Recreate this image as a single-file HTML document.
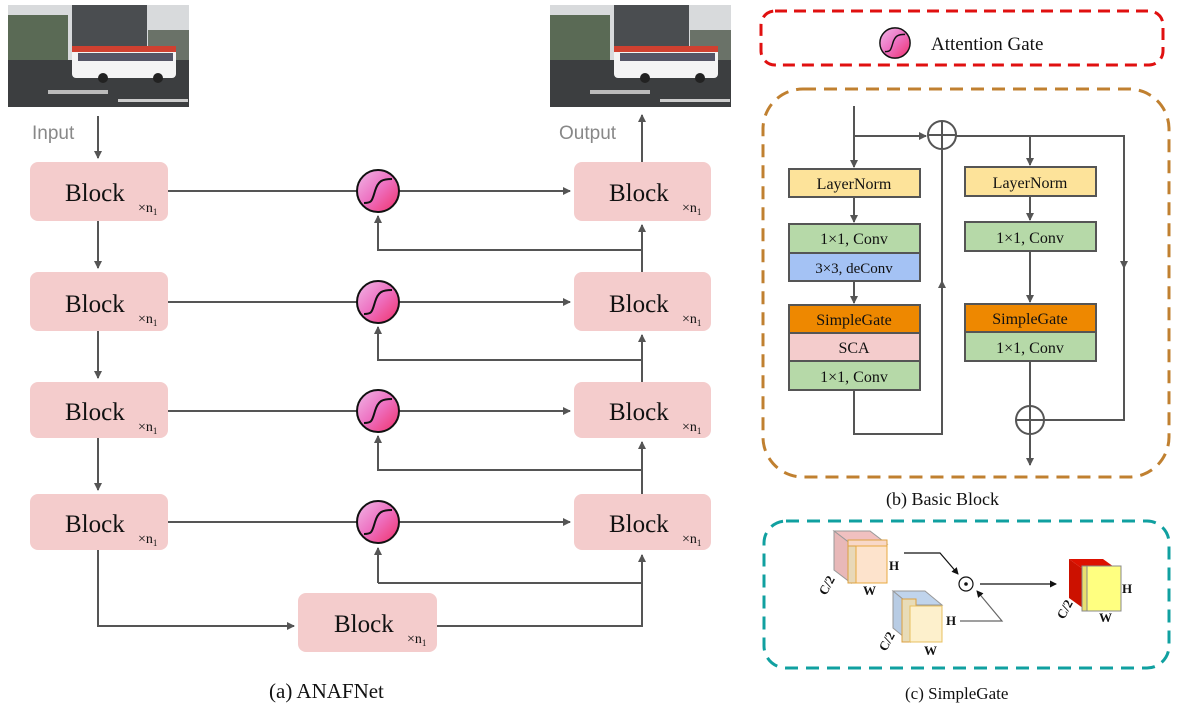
<!DOCTYPE html>
<html><head><meta charset="utf-8"><style>
body{margin:0;background:#fff;width:1179px;height:711px;overflow:hidden}
svg text{font-family:"Liberation Serif",serif}
</style></head><body>
<svg width="1179" height="711" viewBox="0 0 1179 711" xmlns="http://www.w3.org/2000/svg">
<defs>
<marker id="a" markerWidth="8" markerHeight="8" refX="7" refY="4" orient="auto" markerUnits="userSpaceOnUse"><path d="M0,0 L8,4 L0,8 z" fill="#555"/></marker>
<marker id="k" markerWidth="7" markerHeight="7" refX="6" refY="3.5" orient="auto" markerUnits="userSpaceOnUse"><path d="M0,0 L7,3.5 L0,7 z" fill="#111"/></marker>
<linearGradient id="g" x1="0" y1="0" x2="1" y2="1"><stop offset="0" stop-color="#f0b8e8"/><stop offset="0.5" stop-color="#ee70c0"/><stop offset="1" stop-color="#f0306a"/></linearGradient>
<g id="photo">
<rect width="181" height="102" fill="#d8dadc"/>
<rect x="64" y="0" width="75" height="45" fill="#4a4d50"/>
<rect x="0" y="10" width="60" height="45" fill="#5a6a55"/>
<rect x="140" y="25" width="41" height="30" fill="#6a7268"/>
<rect x="0" y="55" width="181" height="47" fill="#3c3e40"/>
<rect x="40" y="85" width="60" height="4" fill="#bbb"/><rect x="110" y="94" width="70" height="3" fill="#ccc"/>
<rect x="64" y="41" width="104" height="32" rx="4" fill="#f4f4f4"/>
<rect x="64" y="41" width="104" height="6" fill="#d04030"/>
<rect x="70" y="48" width="95" height="8" fill="#556"/>
<circle cx="95" cy="73" r="5" fill="#222"/><circle cx="150" cy="73" r="5" fill="#222"/>
</g>
<g id="gate">
<circle r="21" fill="url(#g)" stroke="#111" stroke-width="2"/>
<path d="M-14,12 C-6,12 -6,10 -3,0 C0,-10 4,-12 14,-12" fill="none" stroke="#111" stroke-width="2"/>
</g>
</defs>

<use href="#photo" transform="translate(8,5)"/>
<use href="#photo" transform="translate(550,5)"/>
<text x="32" y="139" font-size="19" fill="#888" style="font-family:'Liberation Sans',sans-serif">Input</text>
<text x="559" y="139" font-size="19" fill="#888" style="font-family:'Liberation Sans',sans-serif">Output</text>

<g stroke="#555" stroke-width="2" fill="none">
<line x1="98" y1="116" x2="98" y2="158" marker-end="url(#a)"/>
<line x1="642" y1="162" x2="642" y2="115" marker-end="url(#a)"/>
<line x1="98" y1="221" x2="98" y2="268" marker-end="url(#a)"/>
<line x1="98" y1="331" x2="98" y2="378" marker-end="url(#a)"/>
<line x1="98" y1="438" x2="98" y2="490" marker-end="url(#a)"/>
<polyline points="98,550 98,626 294,626" marker-end="url(#a)"/>
<polyline points="437,626 642,626 642,555" marker-end="url(#a)"/>
<line x1="642" y1="583" x2="378" y2="583"/><line x1="378" y1="583" x2="378" y2="548" marker-end="url(#a)"/>
<line x1="642" y1="494" x2="642" y2="442" marker-end="url(#a)"/>
<polyline points="642,470 378,470 378,436" marker-end="url(#a)"/>
<line x1="642" y1="382" x2="642" y2="335" marker-end="url(#a)"/>
<polyline points="642,360 378,360 378,327" marker-end="url(#a)"/>
<line x1="642" y1="272" x2="642" y2="225" marker-end="url(#a)"/>
<polyline points="642,250 378,250 378,216" marker-end="url(#a)"/>
<line x1="168" y1="191" x2="570" y2="191" marker-end="url(#a)"/>
<line x1="168" y1="302" x2="570" y2="302" marker-end="url(#a)"/>
<line x1="168" y1="411" x2="570" y2="411" marker-end="url(#a)"/>
<line x1="168" y1="522" x2="570" y2="522" marker-end="url(#a)"/>
</g>

<g fill="#f4cccc">
<rect x="30" y="162" width="138" height="59" rx="8"/>
<rect x="30" y="272" width="138" height="59" rx="8"/>
<rect x="30" y="382" width="138" height="56" rx="8"/>
<rect x="30" y="494" width="138" height="56" rx="8"/>
<rect x="574" y="162" width="137" height="59" rx="8"/>
<rect x="574" y="272" width="137" height="59" rx="8"/>
<rect x="574" y="382" width="137" height="56" rx="8"/>
<rect x="574" y="494" width="137" height="56" rx="8"/>
<rect x="298" y="593" width="139" height="59" rx="8"/>
</g>
<g font-size="25" fill="#111">
<text x="65" y="201">Block</text><text x="138" y="212" font-size="14">×n<tspan font-size="9" dy="3">1</tspan></text>
<text x="65" y="312">Block</text><text x="138" y="323" font-size="14">×n<tspan font-size="9" dy="3">1</tspan></text>
<text x="65" y="420">Block</text><text x="138" y="431" font-size="14">×n<tspan font-size="9" dy="3">1</tspan></text>
<text x="65" y="532">Block</text><text x="138" y="543" font-size="14">×n<tspan font-size="9" dy="3">1</tspan></text>
<text x="609" y="201">Block</text><text x="682" y="212" font-size="14">×n<tspan font-size="9" dy="3">1</tspan></text>
<text x="609" y="312">Block</text><text x="682" y="323" font-size="14">×n<tspan font-size="9" dy="3">1</tspan></text>
<text x="609" y="420">Block</text><text x="682" y="431" font-size="14">×n<tspan font-size="9" dy="3">1</tspan></text>
<text x="609" y="532">Block</text><text x="682" y="543" font-size="14">×n<tspan font-size="9" dy="3">1</tspan></text>
<text x="334" y="632">Block</text><text x="407" y="643" font-size="14">×n<tspan font-size="9" dy="3">1</tspan></text>
</g>
<use href="#gate" transform="translate(378,191)"/>
<use href="#gate" transform="translate(378,302)"/>
<use href="#gate" transform="translate(378,411)"/>
<use href="#gate" transform="translate(378,522)"/>
<text x="269" y="698" font-size="21" fill="#111">(a) ANAFNet</text>

<rect x="761" y="11" width="402" height="54" rx="14" fill="none" stroke="#e01010" stroke-width="3" stroke-dasharray="12,7"/>
<use href="#gate" transform="translate(895,43) scale(0.72)"/>
<text x="931" y="50" font-size="19" fill="#111">Attention Gate</text>

<rect x="763" y="89" width="406" height="388" rx="40" fill="none" stroke="#c08030" stroke-width="3" stroke-dasharray="13,8"/>
<g stroke="#555" stroke-width="2" fill="none">
<line x1="854" y1="106" x2="854" y2="167" marker-end="url(#a)"/>
<line x1="854" y1="136" x2="926" y2="136" marker-end="url(#a)"/>
<line x1="854" y1="197" x2="854" y2="222" marker-end="url(#a)"/>
<line x1="854" y1="281" x2="854" y2="303" marker-end="url(#a)"/>
<polyline points="854,390 854,434 942,434 942,150"/>
<line x1="942" y1="300" x2="942" y2="281" marker-end="url(#a)"/>
<polyline points="956,136 1124,136 1124,420 1044,420"/>
<line x1="1124" y1="250" x2="1124" y2="268" marker-end="url(#a)"/>
<polyline points="1030,136 1030,165" marker-end="url(#a)"/>
<line x1="1030" y1="196" x2="1030" y2="220" marker-end="url(#a)"/>
<line x1="1030" y1="251" x2="1030" y2="302" marker-end="url(#a)"/>
<line x1="1030" y1="361" x2="1030" y2="406"/>
<line x1="1030" y1="434" x2="1030" y2="465" marker-end="url(#a)"/>
<circle cx="942" cy="135" r="14"/><line x1="928" y1="135" x2="956" y2="135"/><line x1="942" y1="121" x2="942" y2="149"/>
<circle cx="1030" cy="420" r="14"/><line x1="1016" y1="420" x2="1044" y2="420"/><line x1="1030" y1="406" x2="1030" y2="434"/>
</g>
<g stroke="#555" stroke-width="2">
<rect x="789" y="169" width="131" height="28" fill="#fde39a"/>
<rect x="789" y="224" width="131" height="29" fill="#b6d9a8"/>
<rect x="789" y="253" width="131" height="28" fill="#a4c2f4"/>
<rect x="789" y="305" width="131" height="28" fill="#ee8800"/>
<rect x="789" y="333" width="131" height="28" fill="#f4cccc"/>
<rect x="789" y="361" width="131" height="29" fill="#b6d9a8"/>
<rect x="965" y="167" width="131" height="29" fill="#fde39a"/>
<rect x="965" y="222" width="131" height="29" fill="#b6d9a8"/>
<rect x="965" y="304" width="131" height="28" fill="#ee8800"/>
<rect x="965" y="332" width="131" height="29" fill="#b6d9a8"/>
</g>
<g font-size="16" fill="#111" text-anchor="middle">
<text x="854" y="189">LayerNorm</text>
<text x="854" y="244">1×1, Conv</text>
<text x="854" y="273" font-size="15">3×3, deConv</text>
<text x="854" y="325">SimpleGate</text>
<text x="854" y="353">SCA</text>
<text x="854" y="382">1×1, Conv</text>
<text x="1030" y="188">LayerNorm</text>
<text x="1030" y="243">1×1, Conv</text>
<text x="1030" y="324">SimpleGate</text>
<text x="1030" y="353">1×1, Conv</text>
</g>
<text x="886" y="505" font-size="18" fill="#111">(b) Basic Block</text>

<rect x="764" y="521" width="405" height="147" rx="22" fill="none" stroke="#10a0a0" stroke-width="3" stroke-dasharray="13,8"/>
<g stroke-width="1">
<polygon points="834,531 870,531 887,544 851,544" fill="#f0c0c0" stroke="#999"/>
<polygon points="834,531 851,544 851,583 834,570" fill="#e8b8b8" stroke="#999"/>
<rect x="848" y="540" width="14" height="43" fill="#e8d8b8" stroke="#dda040"/>
<rect x="848" y="540" width="39" height="6" fill="#f8d8c8" stroke="#dda040"/>
<rect x="856" y="546" width="31" height="37" fill="#fde3cc" stroke="#e8a840"/>
<polygon points="893,591 925,591 942,605 910,605" fill="#c0d4ec" stroke="#999"/>
<polygon points="893,591 910,605 910,642 893,628" fill="#b8cce4" stroke="#999"/>
<rect x="902" y="599" width="14" height="43" fill="#e8dcb8" stroke="#dda040"/>
<rect x="910" y="606" width="32" height="36" fill="#fdf0cc" stroke="#e8c060"/>
<polygon points="1069,559 1103,559 1121,572 1087,572" fill="#dd1100"/>
<polygon points="1069,559 1087,572 1087,611 1069,598" fill="#cc1100"/>
<rect x="1082" y="566" width="12" height="45" fill="#e8e070" stroke="#888"/>
<rect x="1087" y="566" width="34" height="45" fill="#ffff80" stroke="#888"/>
</g>
<g font-size="13" fill="#111" font-weight="bold">
<text x="889" y="570">H</text><text x="863" y="595">W</text>
<text x="0" y="0" transform="translate(826,596) rotate(-62)">C/2</text>
<text x="946" y="625">H</text><text x="924" y="655">W</text>
<text x="0" y="0" transform="translate(886,652) rotate(-62)">C/2</text>
<text x="1122" y="593">H</text><text x="1099" y="622">W</text>
<text x="0" y="0" transform="translate(1064,620) rotate(-62)">C/2</text>
</g>
<g stroke="#111" stroke-width="1.2" fill="none">
<polyline points="904,553 940,553 958,574" marker-end="url(#k)"/>
<polyline points="960,621 1002,621 977,591" stroke="#666" marker-end="url(#k)"/>
<line x1="980" y1="584" x2="1056" y2="584" marker-end="url(#k)"/>
<circle cx="966" cy="584" r="7"/>
</g>
<circle cx="966" cy="584" r="1.8" fill="#111"/>
<text x="905" y="699" font-size="17" fill="#111">(c) SimpleGate</text>
</svg>
</body></html>
